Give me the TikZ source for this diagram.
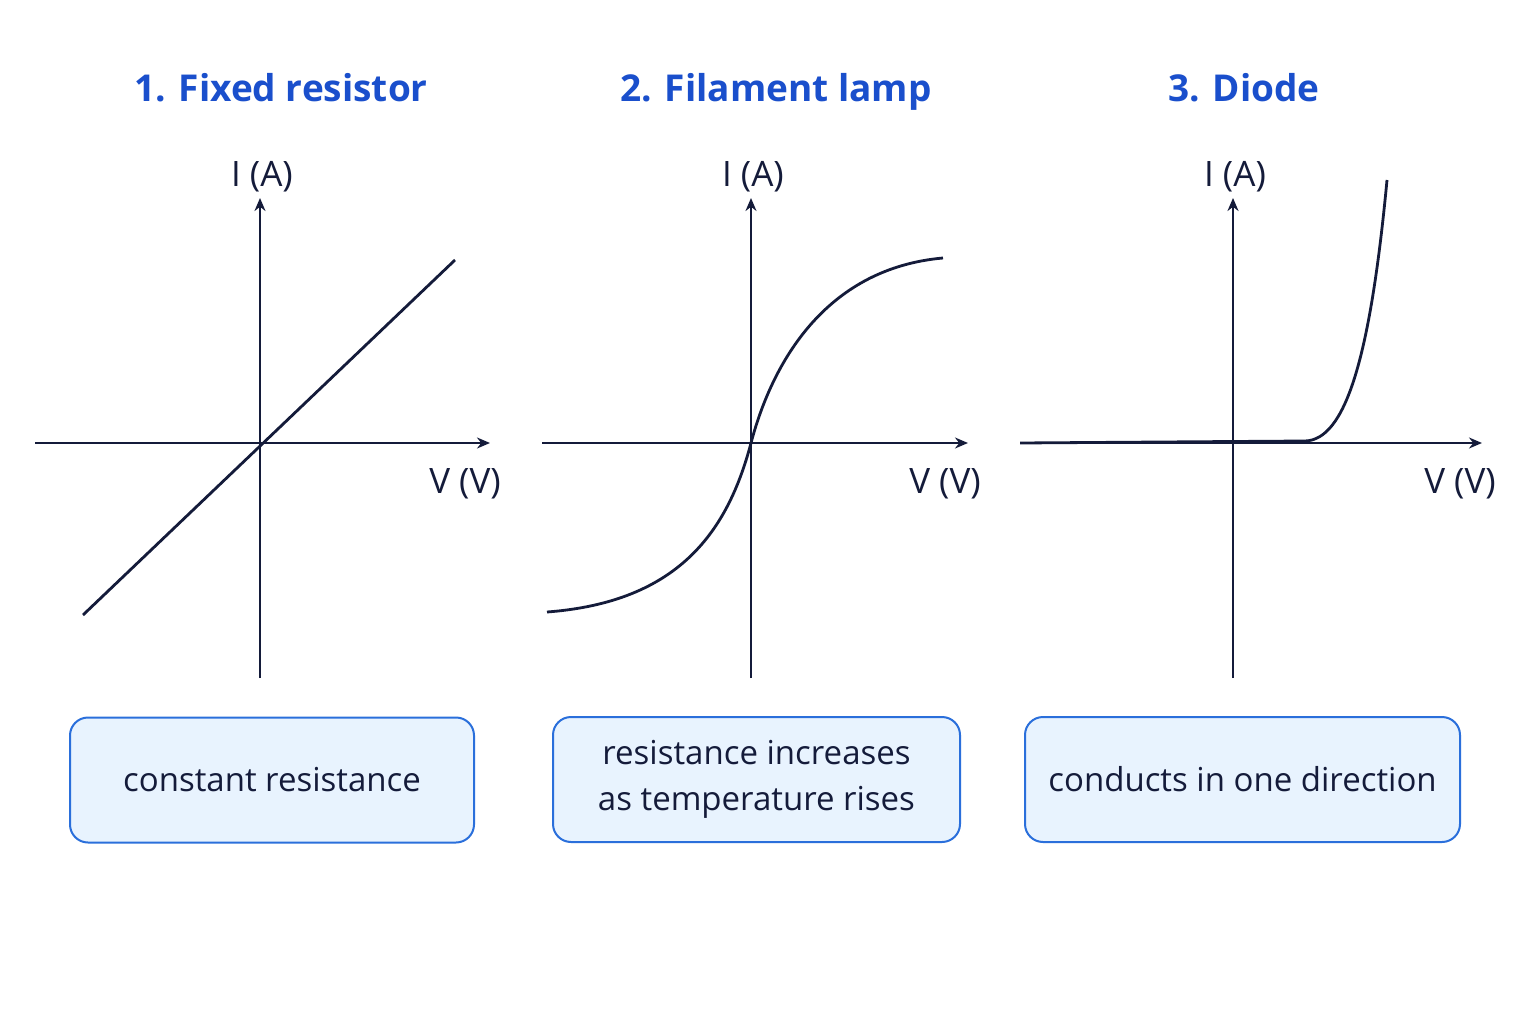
\documentclass[tikz,border=0pt]{standalone}
\usepackage{fontspec}
\setmainfont{Open Sans}
\usetikzlibrary{arrows.meta}
\definecolor{ttl}{HTML}{1A4FCC}
\definecolor{ink}{HTML}{141B3A}
\definecolor{bfill}{HTML}{E8F3FE}
\definecolor{bdraw}{HTML}{2A6FDB}
\begin{document}
\begin{tikzpicture}[x=1pt,y=-1pt,
  title/.style={font=\fontsize{37}{44}\selectfont\bfseries,text=ttl,anchor=base},
  lab/.style={font=\fontsize{35}{40}\selectfont,text=ink,anchor=base},
  axis/.style={draw=ink,line width=2.6pt,-{Stealth[length=13pt,width=11pt]}},
  curve/.style={draw=ink,line width=2.8pt},
  box/.style={draw=bdraw,fill=bfill,line width=2pt,rounded corners=18pt,align=center,font=\fontsize{33}{46}\selectfont,text=ink,inner sep=0pt}]
\useasboundingbox (0,0) rectangle (1536,1024);
\fill[white] (0,0) rectangle (1536,1024);
% titles
\node[title] (t1) at (281,102) {1. Fixed resistor};
\node[title] (t2) at (776,102) {2. Filament lamp};
\node[title] (t3) at (1244,102) {3. Diode};
% panel 1
\coordinate (y1b) at (260,678); \coordinate (y1t) at (260,198);
\coordinate (x1l) at (35,443); \coordinate (x1r) at (490,443);
\draw[axis] (y1b) -- (y1t);
\draw[axis] (x1l) -- (x1r);
\coordinate (l1a) at (83,615); \coordinate (l1b) at (455,260);
\draw[curve] (l1a) -- (l1b);
\node[lab] (i1) at (262,187) {I (A)};
\node[lab] (v1) at (465,493) {V (V)};
% panel 2
\coordinate (y2b) at (751,678); \coordinate (y2t) at (751,198);
\coordinate (x2l) at (542,443); \coordinate (x2r) at (968,443);
\draw[axis] (y2b) -- (y2t);
\draw[axis] (x2l) -- (x2r);
\coordinate (c2a) at (547,612); \coordinate (c2o) at (751,443); \coordinate (c2b) at (943,258);
\draw[curve] (c2a) .. controls (680,602) and (728,530) .. (c2o) .. controls (774,356) and (830,268) .. (c2b);
\node[lab] (i2) at (753,187) {I (A)};
\node[lab] (v2) at (945,493) {V (V)};
% panel 3
\coordinate (y3b) at (1233,678); \coordinate (y3t) at (1233,198);
\coordinate (x3l) at (1020,443); \coordinate (x3r) at (1482,443);
\draw[axis] (y3b) -- (y3t);
\draw[axis] (x3l) -- (x3r);
\coordinate (c3a) at (1020,443); \coordinate (c3k) at (1305,441); \coordinate (c3b) at (1387,180);
\draw[curve] (c3a) -- (c3k) .. controls (1345,440) and (1370,360) .. (c3b);
\node[lab] (i3) at (1235,187) {I (A)};
\node[lab] (v3) at (1460,493) {V (V)};
% boxes
\node[box,minimum width=404pt,minimum height=125pt] (b1) at (272,780) {constant resistance};
\node[box,minimum width=407pt,minimum height=125pt] (b2) at (756.5,779.5) {resistance increases\\as temperature rises};
\node[box,minimum width=435pt,minimum height=125pt] (b3) at (1242.5,779.5) {conducts in one direction};
\end{tikzpicture}
\end{document}
